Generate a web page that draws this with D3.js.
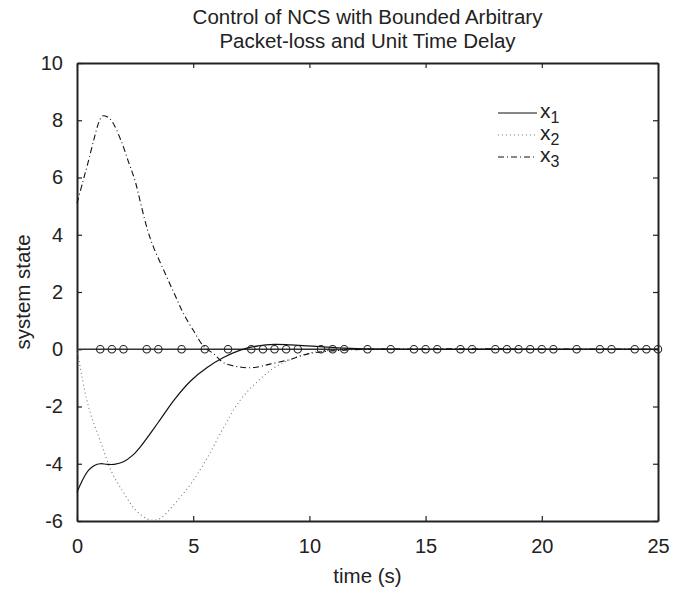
<!DOCTYPE html>
<html>
<head>
<meta charset="utf-8">
<script src="https://cdn.jsdelivr.net/npm/d3@7"></script>
<style>
  body { margin: 0; background: #fff; }
  svg text { font-family: "Liberation Sans", Arial, sans-serif; fill: #222; }
  .axis path, .axis line { stroke: #222; }
</style>
</head>
<body>
<div id="chart"></div>
<script>
// x1 (solid)
const x1Time = [0, 0.15, 0.3, 0.5, 0.75, 1.0, 1.3, 1.6, 2.0, 2.4, 2.75, 3.5, 4.2, 4.9, 5.6, 6.3, 7.0, 7.8, 8.5, 9.2, 9.9, 10.6, 11.5, 12.5, 14, 25]
const x1Value = [-5.0, -4.72, -4.47, -4.22, -4.06, -4.0, -4.02, -4.02, -3.93, -3.7, -3.38, -2.55, -1.75, -1.1, -0.64, -0.29, -0.04, 0.12, 0.17, 0.15, 0.12, 0.08, 0.04, 0.01, 0, 0]
// x2 (dotted)
const x2Time = [0, 0.1, 0.2, 0.4, 0.6, 1.0, 1.5, 2.0, 2.5, 3.0, 3.3, 3.6, 4.2, 4.9, 5.6, 6.3, 7.0, 7.8, 8.5, 9.2, 9.9, 10.6, 11.5, 12.5, 25]
const x2Value = [0, -0.45, -0.9, -1.7, -2.3, -3.2, -4.3, -5.0, -5.6, -5.92, -5.97, -5.9, -5.4, -4.7, -3.8, -2.75, -1.8, -1.1, -0.64, -0.35, -0.15, -0.06, -0.02, 0, 0]
// x3 (dash-dot)
const x3Time = [0, 0.25, 0.5, 0.75, 0.95, 1.1, 1.3, 1.5, 1.9, 2.2, 2.5, 2.75, 3.05, 3.3, 3.75, 4.2, 4.6, 5.05, 5.45, 5.9, 6.3, 7.0, 7.6, 8.3, 9.2, 9.9, 10.6, 11.5, 12.5, 25]
const x3Value = [5.1, 5.85, 6.6, 7.4, 7.95, 8.15, 8.12, 7.97, 7.28, 6.58, 5.88, 5.06, 4.13, 3.55, 2.73, 1.92, 1.22, 0.6, 0.1, -0.17, -0.47, -0.62, -0.64, -0.52, -0.35, -0.17, -0.08, -0.03, 0, 0]
// packet-loss instants (circles on the zero line)
const lossTimes = [1, 1.5, 2, 3, 3.5, 4.5, 5.5, 6.5, 7.5, 8, 8.5, 9, 9.5, 10.5, 11, 11.5, 12.5, 13.5, 14.5, 15, 15.5, 16.5, 17, 18, 18.5, 19, 19.5, 20, 20.5, 21.5, 22.5, 23, 24, 24.5, 25]

const xTicks = [0, 5, 10, 15, 20, 25]
const yTicks = [-6, -4, -2, 0, 2, 4, 6, 8, 10]
const titleLines = ["Control of NCS with Bounded Arbitrary", "Packet-loss and Unit Time Delay"]
const seriesNames = ["1", "2", "3"]

const margin = { top: 63, bottom: 68, right: 28, left: 77 }
const width = 686 - margin.left - margin.right
const height = 589 - margin.top - margin.bottom

const svg = d3.select('#chart').append('svg')
    .attr('width', 686)
    .attr('height', 589)

const g = svg.append('g')
    .attr('transform', `translate(${margin.left}, ${margin.top})`)

const xScale = d3.scaleLinear().domain([0, 25]).range([0, width])
const yScale = d3.scaleLinear().domain([-6, 10]).range([height, 0])

// title
svg.append('g').selectAll('text').data(titleLines)
    .enter().append('text')
        .attr('x', margin.left + width / 2)
        .attr('y', (d, i) => 24 + i * 24)
        .attr('text-anchor', 'middle')
        .style('font-size', '20.5px')
        .text(d => d)

// axes, ticks inward on all sides
const axisStyle = sel => {
    sel.attr('class', 'axis')
    sel.select('.domain').attr('stroke-width', 2)
    sel.selectAll('.tick line').attr('stroke-width', 1.2)
    sel.selectAll('.tick text').style('font-size', '20px').attr('fill', '#222')
}
const plainNumber = d => String(d)   // plain hyphen for negatives, like the original

g.append('g')
    .attr('transform', `translate(0, ${height})`)
    .call(d3.axisBottom(xScale).tickValues(xTicks).tickFormat(plainNumber).tickSizeInner(-5).tickSizeOuter(0).tickPadding(18))
    .call(axisStyle)

g.append('g')
    .call(d3.axisTop(xScale).tickValues(xTicks).tickSizeInner(-5).tickSizeOuter(0).tickFormat(''))
    .call(axisStyle)

g.append('g')
    .call(d3.axisLeft(yScale).tickValues(yTicks).tickFormat(plainNumber).tickSizeInner(-5).tickSizeOuter(0).tickPadding(14))
    .call(axisStyle)

g.append('g')
    .attr('transform', `translate(${width}, 0)`)
    .call(d3.axisRight(yScale).tickValues(yTicks).tickSizeInner(-5).tickSizeOuter(0).tickFormat(''))
    .call(axisStyle)

// axis labels
svg.append('text')
    .attr('x', margin.left + width / 2)
    .attr('y', 583)
    .attr('text-anchor', 'middle')
    .style('font-size', '20.5px')
    .text('time (s)')

svg.append('text')
    .attr('transform', `translate(30, ${margin.top + height / 2}) rotate(-90)`)
    .attr('text-anchor', 'middle')
    .style('font-size', '20.5px')
    .text('system state')

const line = d3.line()
    .x(d => xScale(d[0]))
    .y(d => yScale(d[1]))
    .curve(d3.curveCatmullRom.alpha(0.5))

const zip = (ts, vs) => ts.map((t, i) => [t, vs[i]])

const plot = g.append('g')

// zero line with packet-loss markers
plot.append('path')
    .attr('d', d3.line().x(d => xScale(d)).y(yScale(0))([0, 25]))
    .attr('fill', 'none')
    .attr('stroke', '#333')
    .attr('stroke-width', 1.5)

plot.append('path')
    .attr('d', line(zip(x2Time, x2Value)))
    .attr('fill', 'none')
    .attr('stroke', '#777')
    .attr('stroke-width', 1.1)
    .attr('stroke-dasharray', '1 3')

plot.append('path')
    .attr('d', line(zip(x3Time, x3Value)))
    .attr('fill', 'none')
    .attr('stroke', '#111')
    .attr('stroke-width', 1.1)
    .attr('stroke-dasharray', '6 3 1 3')

plot.append('path')
    .attr('d', line(zip(x1Time, x1Value)))
    .attr('fill', 'none')
    .attr('stroke', '#111')
    .attr('stroke-width', 1.2)

plot.selectAll('circle').data(lossTimes)
    .enter().append('circle')
        .attr('cx', d => xScale(d))
        .attr('cy', yScale(0))
        .attr('r', 3.7)
        .attr('fill', 'none')
        .attr('stroke', '#222')
        .attr('stroke-width', 1.1)

// legend
const legendStyles = [
    { stroke: '#111', dash: null },
    { stroke: '#777', dash: '1 3' },
    { stroke: '#111', dash: '6 3 1 3' }
]
const legend = svg.append('g').attr('transform', 'translate(498, 113)')
const rows = legend.selectAll('g').data(seriesNames)
    .enter().append('g')
        .attr('transform', (d, i) => `translate(0, ${i * 22})`)
rows.append('line')
    .attr('x1', 0).attr('x2', 39)
    .attr('stroke', (d, i) => legendStyles[i].stroke)
    .attr('stroke-width', 1.2)
    .attr('stroke-dasharray', (d, i) => legendStyles[i].dash)
const label = rows.append('text')
    .attr('x', 42)
    .attr('y', 5)
    .style('font-size', '21px')
label.append('tspan').text('x')
label.append('tspan')
    .attr('dy', 5)
    .style('font-size', '16px')
    .text(d => d)
</script>
</body>
</html>
